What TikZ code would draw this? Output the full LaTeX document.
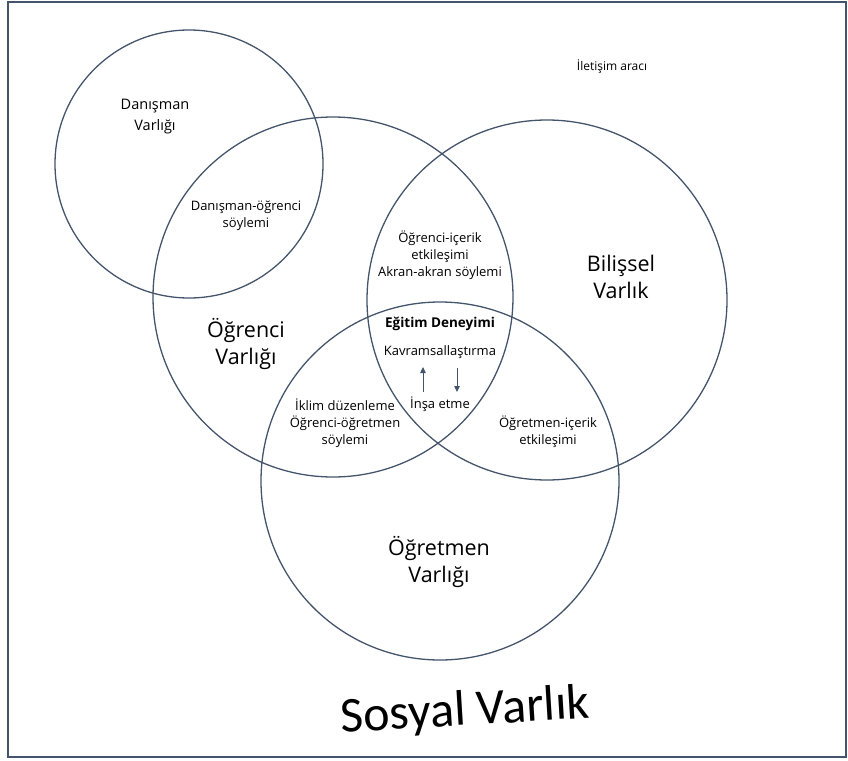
\documentclass[tikz,border=0pt]{standalone}
\usepackage{fontspec}
\setmainfont{Open Sans}
\newfontfamily\titlefont{Carlito}
\usetikzlibrary{arrows.meta}
\definecolor{slate}{HTML}{44546A}

\begin{document}
\begin{tikzpicture}
    [x=1pt,y=-1pt,
     circlestyle/.style={draw=slate,line width=1.3pt,circle,inner sep=0pt},
     smalltext/.style={align=center,font=\fontsize{13}{17}\selectfont},
     midtext/.style={align=center,font=\fontsize{14.5}{21}\selectfont},
     bigtext/.style={align=center,font=\fontsize{21.5}{27}\selectfont},
     arrowstyle/.style={draw=slate,line width=0.8pt,-{Triangle[width=5.5pt,length=6pt]}}]

    \useasboundingbox (0,0) rectangle (848,760);
    \draw [slate,line width=1.8pt] (8,2) rectangle (846,757);

    % the four circles
    \node[circlestyle,minimum size=268pt] (danisman) at (189,164) {};
    \node[circlestyle,minimum size=360pt] (ogrenci) at (333,297) {};
    \node[circlestyle,minimum size=360pt] (bilissel) at (547,300) {};
    \node[circlestyle,minimum size=358pt] (ogretmen) at (440,481) {};

    % names of the circles
    \node[midtext] (danismanlbl) at (155,117) {Danışman\\Varlığı};
    \node[bigtext] (ogrencilbl) at (246,344) {Öğrenci\\Varlığı};
    \node[bigtext] (bilissellbl) at (621,277) {Bilişsel\\Varlık};
    \node[bigtext] (ogretmenlbl) at (439,562) {Öğretmen\\Varlığı};
    \node[align=center,font=\fontsize{12}{16}\selectfont] (iletisim) at (612,67) {İletişim aracı};

    % overlaps
    \node[smalltext] (danogr) at (246,216) {Danışman-öğrenci\\söylemi};
    \node[smalltext] (ogricerik) at (440,255) {Öğrenci-içerik\\etkileşimi\\Akran-akran söylemi};
    \node[smalltext] (iklim) at (345,423) {İklim düzenleme\\Öğrenci-öğretmen\\söylemi};
    \node[smalltext] (ogrticerik) at (548,432) {Öğretmen-içerik\\etkileşimi};

    % centre
    \node[align=center,font=\fontsize{13.5}{17}\selectfont\bfseries] (egitim) at (440,324) {Eğitim Deneyimi};
    \node[smalltext] (kavram) at (440,352) {Kavramsallaştırma};
    \node[smalltext] (insa) at (440,404) {İnşa etme};

    \coordinate (upfrom) at (423,392);
    \coordinate (upto) at (423,367);
    \coordinate (downfrom) at (457,368);
    \coordinate (downto) at (457,392);
    \draw [arrowstyle] (upfrom) -- (upto);
    \draw [arrowstyle] (downfrom) -- (downto);

    % title
    \node[font=\titlefont\fontsize{50}{50}\selectfont,rotate=3.5] (sosyal) at (465,712) {Sosyal Varlık};
  \end{tikzpicture}
\end{document}
